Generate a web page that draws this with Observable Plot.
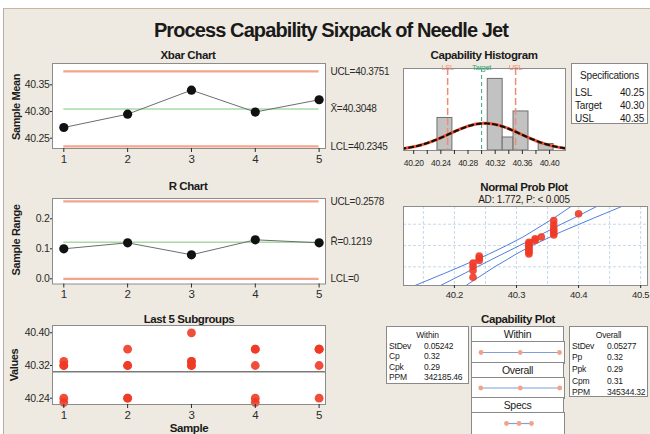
<!DOCTYPE html>
<html>
<head>
<meta charset="utf-8">
<script src="https://cdn.jsdelivr.net/npm/d3@7"></script>
<script src="https://cdn.jsdelivr.net/npm/@observablehq/plot@0.6"></script>
<style>
  body { margin: 0; background: #fff; font-family: "Liberation Sans", Arial, sans-serif; color: #1a1a1a; }
  #root { position: relative; width: 650px; height: 434px; overflow: hidden; }
  #panel { position: absolute; left: 3px; top: 8px; width: 647px; height: 426px; background: #efeae1;
           border-left: 1px solid #b7aca2; border-top: 1px solid #c9b3a2; box-sizing: border-box; }
  .lbl { position: absolute; white-space: nowrap; transform: translate(-50%, -50%); }
  .ttl { font-weight: bold; font-size: 11.5px; letter-spacing: -0.4px; }
  .rot { transform: translate(-50%, -50%) rotate(-90deg); font-weight: bold; font-size: 11px; letter-spacing: -0.4px; }
  .box { position: absolute; background: #fff; border: 1px solid #8a8a8a; box-sizing: border-box; }
  .stat { position: absolute; font-size: 8.5px; letter-spacing: -0.2px; white-space: nowrap; }
  .hdr { display: flex; align-items: center; justify-content: center; font-size: 10.5px; letter-spacing: -0.3px; }
</style>
</head>
<body>
<div id="root"><div id="panel"></div></div>
<script>
// ---- Subgroup statistics -------------------------------------------------
const samples = [1, 2, 3, 4, 5];
const xbarValues = [40.270, 40.295, 40.340, 40.299, 40.322];
const rangeValues = [0.10, 0.12, 0.08, 0.13, 0.12];

const xbarLimitValues = [40.3751, 40.3048, 40.2345];
const xbarLimitLabels = ["UCL=40.3751", "X\u0304=40.3048", "LCL=40.2345"];
const rangeLimitValues = [0.2578, 0.1219, 0];
const rangeLimitLabels = ["UCL=0.2578", "R\u0304=0.1219", "LCL=0"];

const xbarTicks = [40.25, 40.30, 40.35];
const rangeTicks = [0.0, 0.1, 0.2];

// Individual observations of the last five subgroups (five per sample)
const subgroupValues = [
  [40.33, 40.32, 40.32, 40.24, 40.23],
  [40.36, 40.32, 40.32, 40.24, 40.24],
  [40.40, 40.33, 40.32, 40.32, 40.33],
  [40.36, 40.36, 40.32, 40.24, 40.23],
  [40.36, 40.36, 40.36, 40.32, 40.24]
];
const subgroupTicks = [40.24, 40.32, 40.40];

// ---- Capability histogram --------------------------------------------------
const histBinLo = [40.235, 40.309, 40.331, 40.347, 40.384];
const histBinHi = [40.257, 40.331, 40.347, 40.369, 40.406];
const histCounts = [5, 11, 2, 6, 1];
const histTicks = [40.20, 40.22, 40.24, 40.26, 40.28, 40.30, 40.32, 40.34, 40.36, 40.38, 40.40];
const histLabelTicks = [40.20, 40.24, 40.28, 40.32, 40.36, 40.40];

const specNames = ["LSL", "Target", "USL"];
const specValues = [40.25, 40.30, 40.35];

const processMean = 40.3048;
const withinStDev = 0.05242;
const overallStDev = 0.05277;

// ---- Normal probability plot ---------------------------------------------
const probValues = [40.23, 40.23, 40.23, 40.23, 40.24, 40.24, 40.24,
  40.32, 40.32, 40.32, 40.32, 40.32, 40.32, 40.32, 40.32,
  40.33, 40.33, 40.34, 40.36, 40.36, 40.36, 40.36, 40.36, 40.36, 40.40];
const probPercents = [2.8, 6.7, 10.6, 14.6, 18.5, 22.4, 26.4, 30.3, 34.3, 38.2, 42.1, 46.1,
  50.0, 53.9, 57.9, 61.8, 65.7, 69.7, 73.6, 77.6, 81.5, 85.4, 89.4, 93.3, 97.2];
const bandPercents = [0.5, 1, 5, 10, 20, 30, 50, 70, 80, 90, 95, 99, 99.5];
const bandLower = [40.125, 40.142, 40.186, 40.209, 40.236, 40.255, 40.284, 40.311, 40.325, 40.344, 40.360, 40.387, 40.397];
const bandFit   = [40.169, 40.182, 40.218, 40.237, 40.260, 40.277, 40.305, 40.333, 40.349, 40.372, 40.392, 40.428, 40.441];
const bandUpper = [40.213, 40.222, 40.250, 40.265, 40.285, 40.299, 40.325, 40.355, 40.373, 40.401, 40.424, 40.468, 40.484];
const probTicks = [40.2, 40.3, 40.4, 40.5];
const probGridX = [40.15, 40.20, 40.25, 40.30, 40.35, 40.40, 40.45, 40.50];
const probGridPercents = [10, 50, 90];

// ---- Capability plot -------------------------------------------------------
const withinInterval = [40.148, 40.305, 40.462];
const overallInterval = [40.147, 40.305, 40.463];
const withinStatNames = ["StDev", "Cp", "Cpk", "PPM"];
const withinStatValues = ["0.05242", "0.32", "0.29", "342185.46"];
const overallStatNames = ["StDev", "Pp", "Ppk", "Cpm", "PPM"];
const overallStatValues = ["0.05277", "0.32", "0.29", "0.31", "345344.32"];

// ---------------------------------------------------------------------------
const FONT = '"Liberation Sans", Arial, sans-serif';
const SALMON = "#f4a48e";
const GREEN = "#a7dba6";
const RED = "#ef3a26";
const root = document.getElementById("root");

const baseStyle = {background: "transparent", overflow: "visible", fontFamily: FONT,
  fontSize: "10px", color: "#2a2a2a", letterSpacing: "-0.3px"};

function place(el, left, top) {
  el.style.position = "absolute";
  el.style.left = left + "px";
  el.style.top = top + "px";
  root.appendChild(el);
  return el;
}
function label(text, cx, cy, cls, extra) {
  const d = document.createElement("div");
  d.className = "lbl " + (cls || "");
  d.textContent = text;
  d.style.left = cx + "px";
  d.style.top = cy + "px";
  if (extra) Object.assign(d.style, extra);
  root.appendChild(d);
  return d;
}
// inverse standard normal CDF (Acklam), used for the probability axis
function probit(p) {
  const a = [-39.6968302866538, 220.946098424521, -275.928510446969, 138.357751867269, -30.6647980661472, 2.50662827745924];
  const b = [-54.4760987982241, 161.585836858041, -155.698979859887, 66.8013118877197, -13.2806815528857];
  const c = [-0.00778489400243029, -0.322396458041136, -2.40075827716184, -2.54973253934373, 4.37466414146497, 2.93816398269878];
  const d = [0.00778469570904146, 0.32246712907004, 2.445134137143, 3.75440866190742];
  const pl = 0.02425;
  if (p < pl) {
    const q = Math.sqrt(-2 * Math.log(p));
    return (((((c[0]*q+c[1])*q+c[2])*q+c[3])*q+c[4])*q+c[5]) / ((((d[0]*q+d[1])*q+d[2])*q+d[3])*q+1);
  }
  if (p > 1 - pl) {
    const q = Math.sqrt(-2 * Math.log(1 - p));
    return -(((((c[0]*q+c[1])*q+c[2])*q+c[3])*q+c[4])*q+c[5]) / ((((d[0]*q+d[1])*q+d[2])*q+d[3])*q+1);
  }
  const q = p - 0.5, r = q * q;
  return (((((a[0]*r+a[1])*r+a[2])*r+a[3])*r+a[4])*r+a[5])*q / (((((b[0]*r+b[1])*r+b[2])*r+b[3])*r+b[4])*r+1);
}

// ---- Titles ------------------------------------------------------------------
label("Process Capability Sixpack of Needle Jet", 331, 30, "",
  {fontWeight: "bold", fontSize: "20px", letterSpacing: "-0.9px"});
label("Xbar Chart", 188, 55, "ttl");
label("R Chart", 188, 186, "ttl");
label("Last 5 Subgroups", 189, 319, "ttl");
label("Capability Histogram", 484, 55, "ttl");
label("Normal Prob Plot", 524, 187, "ttl");
label("AD: 1.772, P: < 0.005", 524, 199, "", {fontSize: "10px", letterSpacing: "-0.2px"});
label("Capability Plot", 518, 319, "ttl");
label("Sample Mean", 16, 107, "rot");
label("Sample Range", 16, 240, "rot");
label("Values", 14, 365, "rot");
label("Sample", 189, 428, "ttl");

// ---- Xbar chart ------------------------------------------------------------
const xbarData = samples.map((s, i) => ({sample: s, value: xbarValues[i]}));
place(Plot.plot({
  width: 392, height: 110, marginLeft: 52, marginRight: 67, marginTop: 5, marginBottom: 20,
  style: baseStyle,
  x: {domain: [0.823, 5.1]},
  y: {domain: [40.2307, 40.3899]},
  marks: [
    Plot.frame({fill: "white"}),
    Plot.ruleY([xbarLimitValues[0], xbarLimitValues[2]], {x1: samples[0], x2: samples[4], stroke: SALMON, strokeWidth: 2.2}),
    Plot.ruleY([xbarLimitValues[1]], {x1: samples[0], x2: samples[4], stroke: GREEN, strokeWidth: 1.6}),
    Plot.line(xbarData, {x: "sample", y: "value", stroke: "#6d6d6d", strokeWidth: 1}),
    Plot.dot(xbarData, {x: "sample", y: "value", r: 4.6, fill: "#111"}),
    Plot.frame({stroke: "#8c8c8c"}),
    Plot.axisX(samples, {tickSize: 4, tickPadding: 2, fontSize: 11.5, label: null, tickFormat: d3.format("d")}),
    Plot.axisY(xbarTicks, {tickSize: 2, tickPadding: 1, fontSize: 10.5, label: null, tickFormat: d3.format(".2f")}),
    Plot.text(xbarLimitValues, {y: d => d, text: (d, i) => xbarLimitLabels[i], frameAnchor: "right",
      textAnchor: "start", dx: 5, fontSize: 10})
  ]
}), 0, 58);

// ---- R chart -------------------------------------------------------------------
const rangeData = samples.map((s, i) => ({sample: s, value: rangeValues[i]}));
place(Plot.plot({
  width: 392, height: 110, marginLeft: 52, marginRight: 67, marginTop: 6, marginBottom: 18.5,
  style: baseStyle,
  x: {domain: [0.823, 5.1]},
  y: {domain: [-0.0173, 0.2677]},
  marks: [
    Plot.frame({fill: "white"}),
    Plot.ruleY([rangeLimitValues[0], rangeLimitValues[2]], {x1: samples[0], x2: samples[4], stroke: SALMON, strokeWidth: 2.2}),
    Plot.ruleY([rangeLimitValues[1]], {x1: samples[0], x2: samples[4], stroke: GREEN, strokeWidth: 1.6}),
    Plot.line(rangeData, {x: "sample", y: "value", stroke: "#6d6d6d", strokeWidth: 1}),
    Plot.dot(rangeData, {x: "sample", y: "value", r: 4.6, fill: "#111"}),
    Plot.frame({stroke: "#8c8c8c"}),
    Plot.axisX(samples, {tickSize: 4, tickPadding: 2, fontSize: 11.5, label: null, tickFormat: d3.format("d")}),
    Plot.axisY(rangeTicks, {tickSize: 2, tickPadding: 1, fontSize: 10.5, label: null, tickFormat: d3.format(".1f")}),
    Plot.text(rangeLimitValues, {y: d => d, text: (d, i) => rangeLimitLabels[i], frameAnchor: "right",
      textAnchor: "start", dx: 5, fontSize: 10})
  ]
}), 0, 192);

// ---- Last 5 subgroups --------------------------------------------------------
const subgroupData = samples.flatMap((s, i) => subgroupValues[i].map(v => ({sample: s, value: v})));
place(Plot.plot({
  width: 392, height: 100, marginLeft: 52, marginRight: 67, marginTop: 5, marginBottom: 16,
  style: baseStyle,
  x: {domain: [0.823, 5.1]},
  y: {domain: [40.2246, 40.4178]},
  marks: [
    Plot.frame({fill: "white"}),
    Plot.ruleY([processMean], {stroke: "#7a7a7a", strokeWidth: 1.6}),
    Plot.dot(subgroupData, {x: "sample", y: "value", r: 4.4, fill: RED, fillOpacity: 0.9}),
    Plot.frame({stroke: "#8c8c8c"}),
    Plot.axisX(samples, {tickSize: 4, tickPadding: 2, fontSize: 11.5, label: null, tickFormat: d3.format("d")}),
    Plot.axisY(subgroupTicks, {tickSize: 2, tickPadding: 1, fontSize: 10.5, label: null, tickFormat: d3.format(".2f")})
  ]
}), 0, 320);

// ---- Capability histogram --------------------------------------------------
const histData = histCounts.map((c, i) => ({lo: histBinLo[i], hi: histBinHi[i], count: c}));
const histTotal = d3.sum(histCounts);
const histBinWidth = d3.median(histData, d => d.hi - d.lo);
function normalCurve(sd) {
  return d3.range(40.17, 40.44, 0.002).map(x => ({
    x, y: histTotal * histBinWidth * Math.exp(-0.5 * ((x - processMean) / sd) ** 2) / (sd * Math.sqrt(2 * Math.PI))
  }));
}
const specData = specNames.map((n, i) => ({name: n, value: specValues[i]}));
const limitSpecs = specData.filter(d => d.name !== "Target");
const targetSpec = specData.filter(d => d.name === "Target");
const SPEC_RED = "#ef8c74", SPEC_GREEN = "#35a878";
place(Plot.plot({
  width: 190, height: 120, marginLeft: 23, marginRight: 5, marginTop: 10, marginBottom: 28,
  style: baseStyle,
  x: {domain: [40.185, 40.4235]},
  y: {domain: [0, 12.6], axis: null},
  marks: [
    Plot.frame({fill: "white"}),
    Plot.rectY(histData, {x1: "lo", x2: "hi", y: "count", fill: "#c2c2c2", stroke: "#6f6f6f", strokeWidth: 1}),
    Plot.ruleX(limitSpecs, {x: "value", stroke: SPEC_RED, strokeWidth: 1.5, strokeDasharray: "7,3"}),
    Plot.ruleX(targetSpec, {x: "value", stroke: SPEC_GREEN, strokeWidth: 1, strokeDasharray: "4,3"}),
    Plot.line(normalCurve(withinStDev), {x: "x", y: "y", stroke: "#f0522e", strokeWidth: 3, clip: true}),
    Plot.line(normalCurve(overallStDev), {x: "x", y: "y", stroke: "#111", strokeWidth: 2.2, strokeDasharray: "4,4", clip: true}),
    Plot.frame({stroke: "#8c8c8c"}),
    Plot.text(limitSpecs, {x: "value", text: "name", frameAnchor: "top", dy: -4, fontSize: 7.5, fill: SPEC_RED}),
    Plot.text(targetSpec, {x: "value", text: "name", frameAnchor: "top", dy: -4, fontSize: 7.5, fill: SPEC_GREEN}),
    Plot.axisX(histTicks, {tickSize: 4, tickPadding: 5, fontSize: 8.5, label: null,
      tickFormat: d => histLabelTicks.some(t => Math.abs(t - d) < 1e-9) ? d3.format(".2f")(d) : ""})
  ]
}), 380, 58);

// specifications box
const specBox = place(Object.assign(document.createElement("div"), {className: "box"}), 571, 63);
Object.assign(specBox.style, {width: "77px", height: "61px"});
const specTitle = document.createElement("div");
specTitle.className = "stat";
Object.assign(specTitle.style, {left: "0", width: "100%", textAlign: "center", top: "6px", fontSize: "10px"});
specTitle.textContent = "Specifications";
specBox.appendChild(specTitle);
specNames.forEach((n, i) => {
  const l = document.createElement("div");
  l.className = "stat";
  Object.assign(l.style, {left: "3px", top: (23 + i * 13) + "px", fontSize: "10px"});
  l.textContent = n;
  const v = document.createElement("div");
  v.className = "stat";
  Object.assign(v.style, {right: "3px", top: (23 + i * 13) + "px", fontSize: "10px"});
  v.textContent = d3.format(".2f")(specValues[i]);
  specBox.append(l, v);
});

// ---- Normal probability plot ---------------------------------------------
const probData = probValues.map((v, i) => ({value: v, pct: probPercents[i]}));
const bandData = bandPercents.map((p, i) => ({pct: p, lower: bandLower[i], fit: bandFit[i], upper: bandUpper[i]}));
const zOf = d => probit(d.pct / 100);
place(Plot.plot({
  width: 270, height: 105, marginLeft: 23, marginRight: 3, marginTop: 6, marginBottom: 20,
  style: baseStyle,
  x: {domain: [40.118, 40.511]},
  y: {domain: [probit(0.008), probit(0.9906)], axis: null},
  marks: [
    Plot.frame({fill: "white"}),
    Plot.ruleX(probGridX, {stroke: "#c7d9ea", strokeDasharray: "3,2"}),
    Plot.ruleY(probGridPercents, {y: p => probit(p / 100), stroke: "#c7d9ea", strokeDasharray: "3,2"}),
    Plot.line(bandData, {x: "lower", y: zOf, stroke: "#4f7fe0", strokeWidth: 1, clip: true}),
    Plot.line(bandData, {x: "fit", y: zOf, stroke: "#4f7fe0", strokeWidth: 1, clip: true}),
    Plot.line(bandData, {x: "upper", y: zOf, stroke: "#4f7fe0", strokeWidth: 1, clip: true}),
    Plot.dot(probData, {x: "value", y: zOf, r: 3.8, fill: RED, fillOpacity: 0.9}),
    Plot.frame({stroke: "#8c8c8c"}),
    Plot.axisX(probTicks, {tickSize: 3, tickPadding: 3, fontSize: 9.5, label: null, tickFormat: d3.format(".1f")})
  ]
}), 380, 200);

// ---- Capability plot ---------------------------------------------------------
function headerBox(text, top, h) {
  const b = place(Object.assign(document.createElement("div"), {className: "box hdr"}), 471, top);
  Object.assign(b.style, {width: "93px", height: h + "px"});
  b.textContent = text;
}
function intervalRow(interval, top, h) {
  const pts = interval.map(v => ({v}));
  const svg = Plot.plot({
    width: 93, height: h, margin: 0,
    style: baseStyle,
    x: {domain: [40.11, 40.482], axis: null},
    y: {domain: [-1, 1], axis: null},
    marks: [
      Plot.frame({fill: "white", stroke: "#8a8a8a"}),
      Plot.ruleY([0], {x1: d3.min(interval), x2: d3.max(interval), stroke: "#7f9fdc", strokeWidth: 1.2}),
      Plot.dot(pts, {x: "v", y: () => 0, r: 2.4, fill: "#f3a287"})
    ]
  });
  place(svg, 471, top);
}
headerBox("Within", 326, 16);
intervalRow(withinInterval, 341, 22);
headerBox("Overall", 362, 16);
intervalRow(overallInterval, 377, 21);
headerBox("Specs", 397, 16);
intervalRow(specValues, 412, 22);

function statBox(title, names, values, left, width, height, step) {
  const b = place(Object.assign(document.createElement("div"), {className: "box"}), left, 326);
  Object.assign(b.style, {width: width + "px", height: height + "px", overflow: "hidden"});
  const t = document.createElement("div");
  t.className = "stat";
  Object.assign(t.style, {left: "0", width: "100%", textAlign: "center", top: "3px"});
  t.textContent = title;
  b.appendChild(t);
  names.forEach((n, i) => {
    const gap = (names.length === 5 && i >= 3) ? 2 : 0;
    const top = 14 + i * step + (i >= 2 ? 1 : 0) + gap;
    const l = document.createElement("div");
    l.className = "stat";
    Object.assign(l.style, {left: "2px", top: top + "px"});
    l.textContent = n;
    const v = document.createElement("div");
    v.className = "stat";
    Object.assign(v.style, {left: "37px", top: top + "px"});
    v.textContent = values[i];
    b.append(l, v);
  });
}
statBox("Within", withinStatNames, withinStatValues, 386, 83, 58, 10);
statBox("Overall", overallStatNames, overallStatValues, 569, 79, 71, 10.8);
</script>
</body>
</html>
